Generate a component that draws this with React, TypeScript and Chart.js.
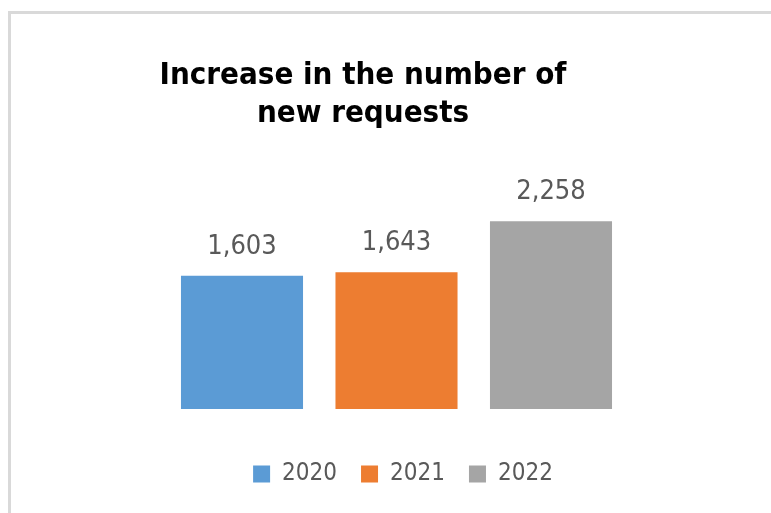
import React, { useEffect, useRef } from "react";
import { Chart, registerables } from "chart.js";

Chart.register(...registerables);

const categories = ["2020", "2021", "2022"];
const requests = [1603, 1643, 2258];
const barColors = ["#5B9BD5", "#ED7D31", "#A5A5A5"];
const titleLines = ["Increase in the number of", "new requests"];
const yMax = 2500;

const FONT = "'DejaVu Sans Condensed', 'DejaVu Sans', sans-serif";

const framePlugin = {
  id: "frame",
  beforeDraw(chart: any) {
    const ctx = chart.ctx;
    ctx.save();
    ctx.fillStyle = "#ffffff";
    ctx.fillRect(0, 0, chart.width, chart.height);
    ctx.fillStyle = "#d9d9d9";
    ctx.fillRect(8, 11, chart.width - 8, 3);
    ctx.fillRect(8, 11, 3, chart.height - 11);
    ctx.restore();
  },
};

const legendShiftPlugin = {
  id: "legendShift",
  afterLayout(chart: any) {
    if (chart.legend) {
      chart.legend.left += 6.5;
      chart.legend.right += 6.5;
    }
  },
};

const labelPlugin = {
  id: "barLabels",
  afterDatasetsDraw(chart: any) {
    const ctx = chart.ctx;
    const meta = chart.getDatasetMeta(0);
    const data = chart.data.datasets[0].data as number[];
    ctx.save();
    ctx.font = `27px ${FONT}`;
    ctx.fillStyle = "#595959";
    ctx.textAlign = "center";
    ctx.textBaseline = "alphabetic";
    meta.data.forEach((bar: any, i: number) => {
      ctx.fillText(data[i].toLocaleString("en-US"), bar.x, bar.y - 22);
    });
    ctx.restore();
  },
};

export default function App() {
  const ref = useRef<HTMLCanvasElement | null>(null);

  useEffect(() => {
    if (!ref.current) return;
    const chart = new Chart(ref.current, {
      type: "bar",
      data: {
        labels: categories,
        datasets: [
          {
            data: requests,
            backgroundColor: barColors,
            borderWidth: 0,
            categoryPercentage: 1,
            barPercentage: 0.79,
          },
        ],
      },
      options: {
        responsive: false,
        animation: false,
        devicePixelRatio: 1,
        layout: { padding: { top: 0, left: 0, right: 45, bottom: 17 } },
        scales: {
          x: {
            display: true,
            ticks: { display: false },
            grid: { display: false },
            border: { display: false },
            afterFit(scale: any) {
              scale.height = 29;
            },
          },
          y: {
            display: true,
            min: 0,
            max: yMax,
            ticks: { display: false },
            grid: { display: false },
            border: { display: false },
            afterFit(scale: any) {
              scale.width = 164.75;
            },
          },
          y2: {
            display: true,
            position: "right",
            min: 0,
            max: yMax,
            ticks: { display: false },
            grid: { display: false },
            border: { display: false },
            afterFit(scale: any) {
              scale.width = 97.75;
            },
          },
        },
        plugins: {
          tooltip: { enabled: false },
          title: {
            display: true,
            text: titleLines,
            color: "#000000",
            font: { family: FONT, size: 31, weight: "bold", lineHeight: 38 / 31 },
            padding: { top: 57, bottom: 68 },
          },
          legend: {
            display: true,
            position: "bottom",
            fullSize: false,
            labels: {
              boxWidth: 17,
              boxHeight: 17,
              padding: 24,
              color: "#595959",
              font: { family: FONT, size: 24 },
              generateLabels: () =>
                categories.map((c, i) => ({
                  text: c,
                  fillStyle: barColors[i],
                  strokeStyle: barColors[i],
                  lineWidth: 0,
                  hidden: false,
                  index: i,
                  fontColor: "#595959",
                })),
            },
          },
        },
      },
      plugins: [framePlugin, legendShiftPlugin, labelPlugin],
    });
    return () => chart.destroy();
  }, []);

  return (
    <div style={{ position: "absolute", left: 0, top: 0, width: 771, height: 513 }}>
      <canvas ref={ref} width={771} height={513} />
    </div>
  );
}
